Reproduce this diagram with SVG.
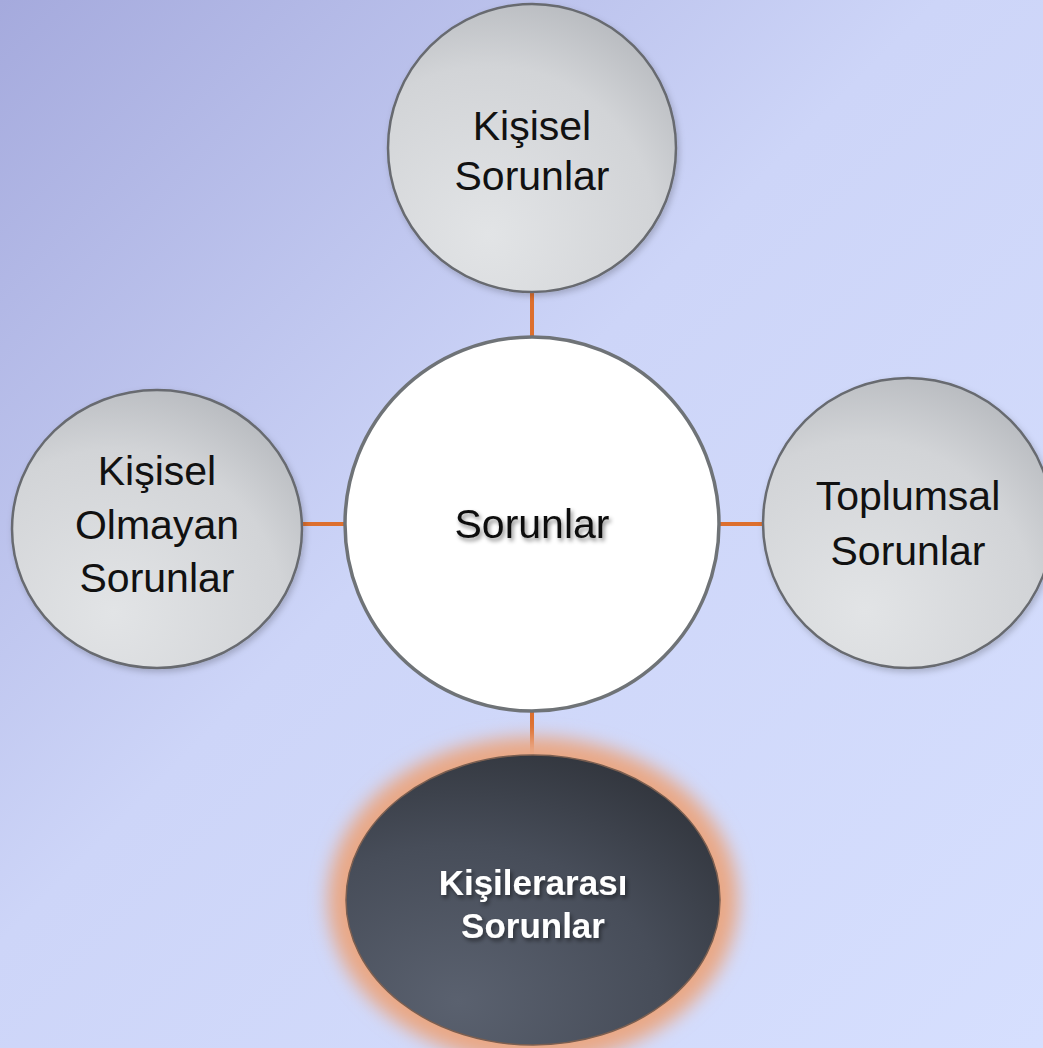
<svg xmlns="http://www.w3.org/2000/svg" width="1043" height="1048" viewBox="0 0 1043 1048">
<defs>
<linearGradient id="bg" x1="0" y1="0" x2="1" y2="1">
<stop offset="0" stop-color="#a5aadd"/>
<stop offset="0.45" stop-color="#cdd5f8"/>
<stop offset="1" stop-color="#d6dffe"/>
</linearGradient>
<radialGradient id="gray" cx="0.35" cy="0.8" r="0.9">
<stop offset="0" stop-color="#e2e4e6"/>
<stop offset="0.65" stop-color="#d2d4d7"/>
<stop offset="1" stop-color="#b3b6bb"/>
</radialGradient>
<radialGradient id="dark" cx="0.3" cy="0.85" r="0.9">
<stop offset="0" stop-color="#5a616f"/>
<stop offset="0.6" stop-color="#474d59"/>
<stop offset="1" stop-color="#33373f"/>
</radialGradient>
<filter id="glow" x="-30%" y="-30%" width="160%" height="160%">
<feGaussianBlur stdDeviation="9"/>
</filter>
<filter id="shadow" x="-20%" y="-40%" width="140%" height="180%">
<feDropShadow dx="2" dy="3" stdDeviation="2" flood-color="#000" flood-opacity="0.45"/>
</filter>
<filter id="cshadow" x="-20%" y="-20%" width="140%" height="140%">
<feDropShadow dx="2" dy="3" stdDeviation="3" flood-color="#000" flood-opacity="0.2"/>
</filter>
</defs>
<style>
.gnode{fill:url(#gray);stroke:#676b70;stroke-width:2.5}
.lbl{font-family:"Liberation Sans",Arial,sans-serif;font-size:41px;fill:#111;text-anchor:middle}
.wlbl{font-family:"Liberation Sans",Arial,sans-serif;font-size:35px;font-weight:bold;fill:#fff;text-anchor:middle}
.conn{stroke:#dd6f2e;stroke-width:4;fill:none}
</style>
<rect width="1043" height="1048" fill="url(#bg)"/>
<g id="connectors">
<line class="conn" x1="532" y1="290" x2="532" y2="338"/>
<line class="conn" x1="302" y1="524" x2="345" y2="524"/>
<line class="conn" x1="719" y1="524" x2="764" y2="524"/>
<line class="conn" x1="532" y1="710" x2="532" y2="756"/>
</g>
<g id="node-kisisel">
<circle class="gnode" cx="532" cy="148" r="144" filter="url(#cshadow)"/>
<text class="lbl" x="532" y="140">Kişisel</text>
<text class="lbl" x="532" y="190">Sorunlar</text>
</g>
<g id="node-kisisel-olmayan">
<ellipse class="gnode" cx="157" cy="529" rx="145" ry="139" filter="url(#cshadow)"/>
<text class="lbl" x="157" y="485">Kişisel</text>
<text class="lbl" x="157" y="539">Olmayan</text>
<text class="lbl" x="157" y="592">Sorunlar</text>
</g>
<g id="node-toplumsal">
<ellipse class="gnode" cx="908" cy="523" rx="145" ry="145" filter="url(#cshadow)"/>
<text class="lbl" x="908" y="510">Toplumsal</text>
<text class="lbl" x="908" y="565">Sorunlar</text>
</g>
<g id="node-sorunlar">
<circle cx="532" cy="524" r="187" fill="#ffffff" stroke="#6f7377" stroke-width="3.5"/>
<text class="lbl" x="532" y="538" font-size="43" filter="url(#shadow)">Sorunlar</text>
</g>
<g id="node-kisilerarasi">
<ellipse cx="533" cy="900" rx="205" ry="163" fill="#e9a886" filter="url(#glow)"/>
<ellipse cx="533" cy="900" rx="187" ry="145" fill="url(#dark)" stroke="#7a5e50" stroke-width="1.5"/>
<text class="wlbl" x="533" y="895" filter="url(#shadow)">Kişilerarası</text>
<text class="wlbl" x="533" y="938" filter="url(#shadow)">Sorunlar</text>
</g>
</svg>
